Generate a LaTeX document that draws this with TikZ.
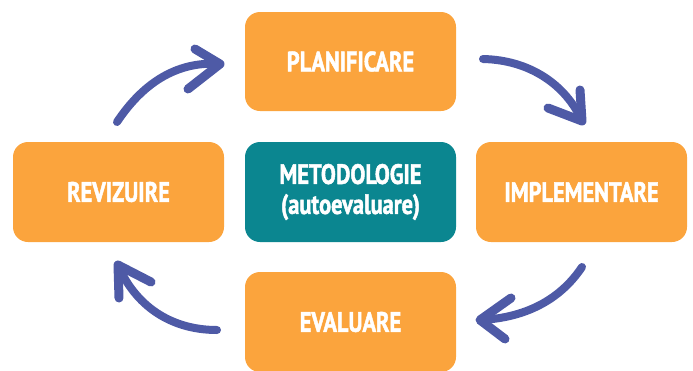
\documentclass[tikz,border=0pt]{standalone}
\usepackage{fontspec}
\setmainfont[FakeStretch=0.8, BoldFeatures={FakeBold=1.6}]{PT Sans}
\definecolor{boxorange}{HTML}{FBA43D}
\definecolor{boxteal}{HTML}{0B8690}
\definecolor{arrowblue}{HTML}{4E5AA6}
\begin{document}
\begin{tikzpicture}[x=1pt,y=-1pt,
  box/.style={rounded corners=15pt, minimum width=211pt, minimum height=100pt,
    inner sep=0pt, text=white, font=\fontsize{28}{30}\selectfont\bfseries, align=center},
  orangebox/.style={box, fill=boxorange},
  tealbox/.style={box, fill=boxteal},
  shaft/.style={draw=arrowblue, line width=8pt, line cap=round},
  head/.style={draw=arrowblue, line width=9pt, line cap=round, line join=round}]
\useasboundingbox (0,0) rectangle (693,370);
\clip (0,0) rectangle (693,370);
\node[orangebox, minimum height=99pt] (plan) at (350.5,61.5) {PLANIFICARE};
\node[orangebox] (rev) at (118.5,192) {REVIZUIRE};
\node[tealbox] (met) at (350.5,192) {METODOLOGIE\\(autoevaluare)};
\node[orangebox] (imp) at (581.5,192) {IMPLEMENTARE};
\node[orangebox] (eval) at (350.5,322) {EVALUARE};
% arrow 1: revizuire -> planificare
\coordinate (a1s) at (117,122);
\coordinate (a1t) at (220,64);
\draw[shaft] (a1s) .. controls (145,80) and (180,61) .. (a1t);
\draw[head] (195,49) -- (a1t) -- (188,89);
% arrow 2: planificare -> implementare
\coordinate (a2s) at (483,59);
\coordinate (a2t) at (582,121);
\draw[shaft] (a2s) .. controls (530,60) and (566,85) .. (a2t);
\draw[head] (580,90) -- (a2t) -- (548,108);
% arrow 3: implementare -> evaluare
\coordinate (a3s) at (582,267);
\coordinate (a3t) at (480,320);
\draw[shaft] (a3s) .. controls (560,300) and (525,318) .. (a3t);
\draw[head] (511,298) -- (a3t) -- (505,339);
% arrow 4: evaluare -> revizuire
\coordinate (a4s) at (217,330);
\coordinate (a4t) at (118,265);
\draw[shaft] (a4s) .. controls (170,330) and (135,305) .. (a4t);
\draw[head] (151,282) -- (a4t) -- (119,298);
\end{tikzpicture}
\end{document}
